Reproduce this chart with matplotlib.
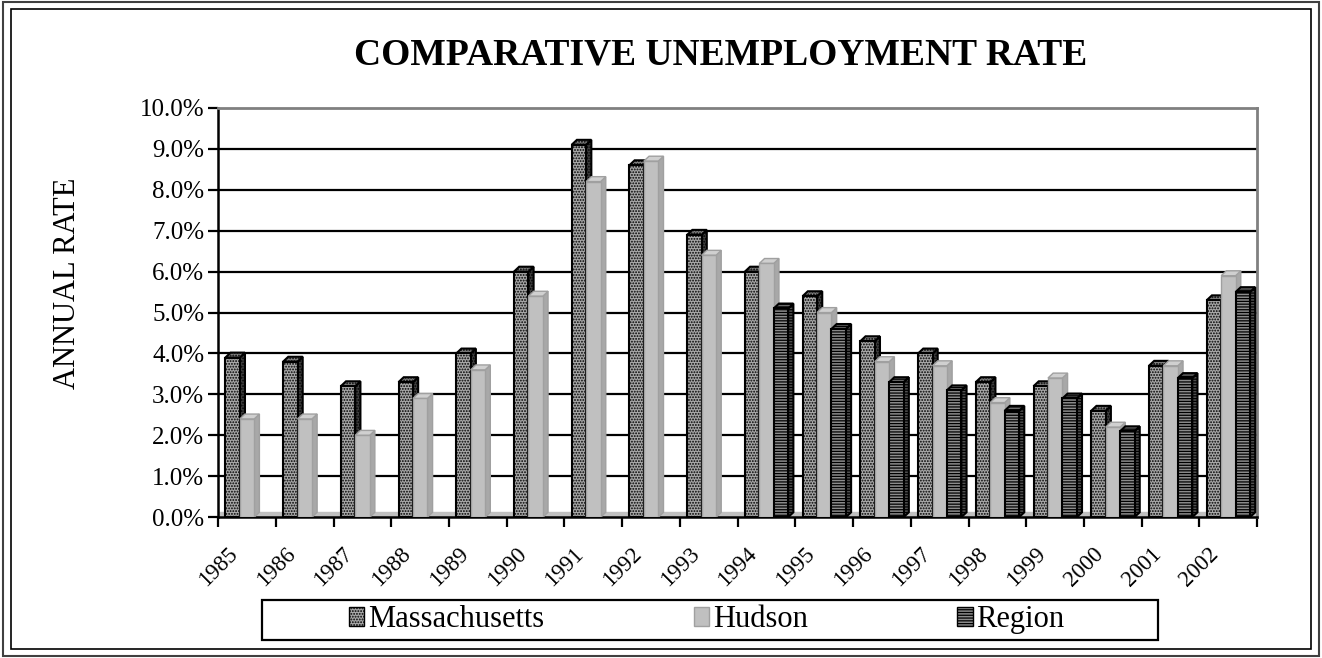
import matplotlib
matplotlib.use("Agg")
import matplotlib.pyplot as plt
import matplotlib.transforms as mtransforms
from matplotlib.patches import Polygon, Rectangle, Patch
import numpy as np

plt.rcParams['font.family'] = ['Liberation Serif', 'DejaVu Serif']
plt.rcParams['hatch.linewidth'] = 0.9

# data (percent)
years = ['1985', '1986', '1987', '1988', '1989', '1990', '1991', '1992', '1993',
         '1994', '1995', '1996', '1997', '1998', '1999', '2000', '2001', '2002']
massachusetts = [3.9, 3.8, 3.2, 3.3, 4.0, 6.0, 9.1, 8.6, 6.9,
                 6.0, 5.4, 4.3, 4.0, 3.3, 3.2, 2.6, 3.7, 5.3]
hudson = [2.4, 2.4, 2.0, 2.9, 3.6, 5.4, 8.2, 8.7, 6.4,
          6.2, 5.0, 3.8, 3.7, 2.8, 3.4, 2.2, 3.7, 5.9]
region = [0, 0, 0, 0, 0, 0, 0, 0, 0,
          5.1, 4.6, 3.3, 3.1, 2.6, 2.9, 2.1, 3.4, 5.5]
series_names = ['Massachusetts', 'Hudson', 'Region']

# styles: front face, side face, edge colour, hatch
styles = [
    dict(face='#a8a8a8', side='#404040', top='#808080', edge='black', hatch='......'),
    dict(face='#c0c0c0', side='#a8a8a8', top='#d0d0d0', edge='#a0a0a0', hatch=None),
    dict(face='#8c8c8c', side='#505050', top='#6a6a6a', edge='black', hatch='------'),
]

fig = plt.figure(figsize=(13.22, 6.58), dpi=100)
ax = fig.add_axes([0.165, 0.214, 0.786, 0.622])

n = len(years)
x = np.arange(n)
width = 0.25
offsets = [-0.25, 0.0, 0.25]
dx, dy = 0.09, 0.12   # fake 3d depth

ax.set_xlim(-0.5, n - 0.5)
ax.set_ylim(0, 10)

# floor strip
ax.axhspan(0, dy, color='#c0c0c0', zorder=1)

for k in range(1, 10):
    ax.axhline(k, color='black', lw=1.6, zorder=1.5)

data = [massachusetts, hudson, region]
for s, (vals, st) in enumerate(zip(data, styles)):
    for i, v in enumerate(vals):
        if v <= 0:
            continue
        x0 = x[i] + offsets[s] - width / 2
        x1 = x0 + width
        z = 2 + s
        lw = 1.5 if st['edge'] == 'black' else 1.0
        # side face
        ax.add_patch(Polygon([(x1, 0), (x1 + dx, dy), (x1 + dx, v + dy), (x1, v)],
                             facecolor=st['side'], edgecolor=st['edge'], lw=lw,
                             hatch=st['hatch'], zorder=z))
        # top face
        ax.add_patch(Polygon([(x0, v), (x0 + dx, v + dy), (x1 + dx, v + dy), (x1, v)],
                             facecolor=st['top'], edgecolor=st['edge'], lw=lw,
                             hatch=st['hatch'], zorder=z))
        # front face
        ax.add_patch(Rectangle((x0, 0), width, v, facecolor=st['face'],
                               edgecolor=st['edge'], lw=lw, hatch=st['hatch'], zorder=z + 0.5))

# axes frame
ax.spines['left'].set_color('black')
ax.spines['left'].set_linewidth(1.8)
ax.spines['bottom'].set_color('black')
ax.spines['bottom'].set_linewidth(1.8)
ax.spines['top'].set_color('#808080')
ax.spines['top'].set_linewidth(2)
ax.spines['right'].set_color('#808080')
ax.spines['right'].set_linewidth(2)

ax.set_yticks(np.arange(0, 10.5, 1))
ax.set_yticklabels([f'{t:.1f}%' for t in np.arange(0, 10.5, 1)], fontsize=18)
ax.tick_params(axis='y', direction='out', length=7, width=1.6, pad=3)

ax.set_xticks(x)
ax.set_xticklabels(years, fontsize=16.5, rotation=45, ha='right', va='top',
                   rotation_mode='anchor')
ax.tick_params(axis='x', which='major', length=0, pad=19)
shift = mtransforms.ScaledTranslation(-20 / 100, 0, fig.dpi_scale_trans)
for lab in ax.get_xticklabels():
    lab.set_transform(lab.get_transform() + shift)
ax.set_xticks(np.arange(-0.5, n, 1), minor=True)
ax.tick_params(axis='x', which='minor', direction='out', length=7, width=1.6)

# titles
fig.text(0.545, 0.916, 'COMPARATIVE UNEMPLOYMENT RATE', ha='center', va='center',
         fontsize=27, fontweight='bold')
fig.text(0.051, 0.57, 'ANNUAL RATE', ha='center', va='center', rotation=90, fontsize=22)

# legend
handles = [Patch(facecolor=st['face'], edgecolor=st['edge'], hatch=st['hatch'], lw=1)
           for st in styles]
fig.legend(handles, series_names, loc='center left', bbox_to_anchor=(0.264, 0.058),
           ncol=3, frameon=False, fontsize=22, handlelength=0.5, handleheight=0.6,
           handletextpad=0.12, columnspacing=4.9, borderpad=0, borderaxespad=0)
fig.add_artist(Rectangle((0.198, 0.027), 0.678, 0.061, transform=fig.transFigure,
                         fill=False, edgecolor='black', lw=1.6))

# outer double border
fig.add_artist(Rectangle((0.002, 0.003), 0.996, 0.994, transform=fig.transFigure,
                         fill=False, edgecolor='#404040', lw=1.5))
fig.add_artist(Rectangle((0.008, 0.014), 0.984, 0.972, transform=fig.transFigure,
                         fill=False, edgecolor='black', lw=1.2))

fig.savefig('out.png', dpi=100)
